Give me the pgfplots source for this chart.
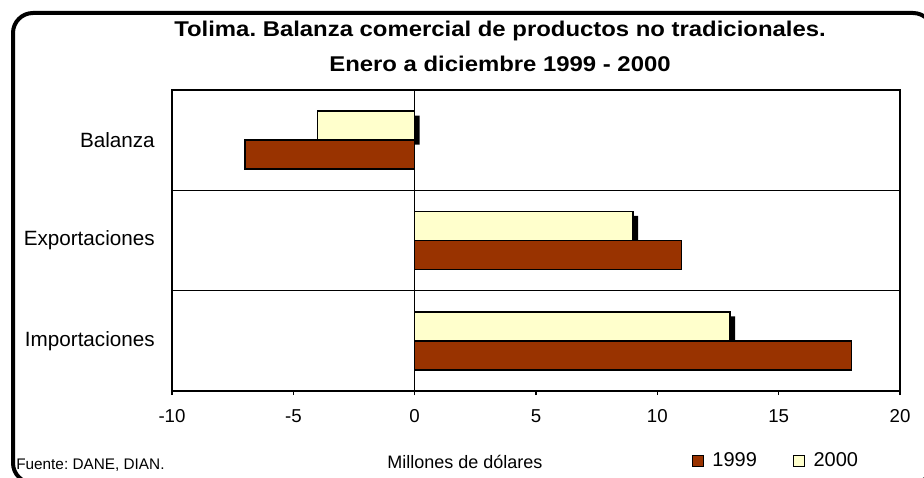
\documentclass[border=0pt]{standalone}
\usepackage{fontspec}
\setmainfont{Liberation Sans}
\usepackage{pgfplots}
\pgfplotsset{compat=1.18}
\definecolor{c1999}{HTML}{993300}
\definecolor{c2000}{HTML}{FFFFCC}
\frenchspacing
\begin{document}
\begin{tikzpicture}
\useasboundingbox (0pt,0pt) rectangle (693pt,358.5pt);
\clip (0pt,0pt) rectangle (693pt,358.5pt);
\draw[line width=3pt, rounded corners=15pt] (9.75pt,-3.75pt) rectangle (699.75pt,348.75pt);
\node at (375pt,335.25pt) {\scalebox{1.12}[1]{\bfseries\fontsize{16}{19}\selectfont Tolima. Balanza comercial de productos no tradicionales.}};
\node at (375pt,310.5pt) {\scalebox{1.12}[1]{\bfseries\fontsize{16}{19}\selectfont Enero a diciembre 1999 - 2000}};
\node[anchor=west, inner sep=0pt, font=\fontsize{11.5}{13}\selectfont] at (12pt,9.75pt) {Fuente: DANE, DIAN.};
\node[font=\fontsize{13.5}{16}\selectfont] at (348.75pt,12pt) {Millones de dólares};
\begin{axis}[
  at={(129pt,65.25pt)}, anchor=south west,
  width=546pt, height=225.75pt, scale only axis,
  xbar,
  xmin=-10, xmax=20, ymin=-0.5, ymax=2.5,
  xtick={-10,-5,0,5,10,15,20},
  ytick={0,1,2},
  yticklabels={Importaciones,Exportaciones,Balanza},
  minor ytick={0.5,1.5},
  yminorgrids, minor grid style={black, line width=1pt},
  minor tick length=0pt,
  ytick style={draw=none},
  tick align=outside, major tick length=3pt,
  xtick pos=bottom,
  axis line style={line width=1pt},
  xtick style={black, line width=0.8pt},
  extra x ticks={0}, extra x tick labels={},
  extra x tick style={grid=major, major grid style={black, line width=0.8pt}},
  /pgf/number format/assume math mode=true,
  x tick label style={font=\fontsize{14}{16}\selectfont, inner sep=0pt, yshift=-10.5pt},
  y tick label style={font=\fontsize{15.5}{18}\selectfont, inner sep=0pt, xshift=-9.75pt},
  bar width=0.29,
  legend style={at={(0.83,-0.2326)}, anchor=center, draw=none, fill=none,
    legend columns=2, font=\fontsize{15}{18}\selectfont,
    /tikz/every even column/.append style={column sep=25pt}},
]
\addplot[fill=black, draw=none, bar shift=0.145, forget plot, xshift=3.75pt, yshift=-3.4pt]
  coordinates {(13,0) (9,1) (-4,2)};
\addplot[fill=c1999, draw=black, line width=1.2pt, bar shift=-0.145,
  legend image code/.code={\draw[fill=c1999, draw=black, line width=0.9pt] (0pt,-4.1pt) rectangle (8.25pt,4.1pt); \path[draw=none, fill=none] (0pt,0pt) -- (13pt,0pt);}]
  coordinates {(18,0) (11,1) (-7,2)};
\addplot[fill=c2000, draw=black, line width=1.2pt, bar shift=0.145,
  legend image code/.code={\draw[fill=c2000, draw=black, line width=0.9pt] (0pt,-4.1pt) rectangle (8.25pt,4.1pt); \path[draw=none, fill=none] (0pt,0pt) -- (13pt,0pt);}]
  coordinates {(13,0) (9,1) (-4,2)};
\legend{1999,2000}
\end{axis}
\end{tikzpicture}
\end{document}
